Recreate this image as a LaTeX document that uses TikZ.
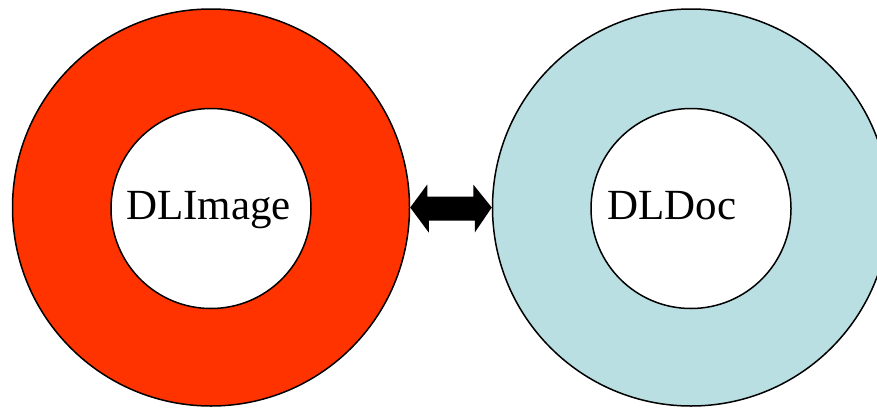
\documentclass[tikz,border=0pt]{standalone}
\usepackage{fontspec}
\setmainfont{Liberation Serif}
\definecolor{ringred}{HTML}{FF3300}
\definecolor{ringblue}{HTML}{B9DFE3}
\begin{document}
\begin{tikzpicture}[x=1pt,y=-1pt,
  outer/.style={circle,draw=black,line width=1.5pt,minimum size=397pt,inner sep=0pt},
  inner/.style={circle,draw=black,fill=white,line width=1.5pt,minimum size=200pt,inner sep=0pt},
  label/.style={anchor=base west,inner sep=0pt,font=\fontsize{43}{48}\selectfont}]
\useasboundingbox (0,0) rectangle (877,407);
\begin{scope}
\clip (0,0) rectangle (877,407);
\node[outer,fill=ringred] (lo) at (211,207.5) {};
\node[outer,fill=ringblue] (ro) at (691,207.5) {};
\node[inner] (li) at (211,208.5) {};
\node[inner] (ri) at (691,208.5) {};
\end{scope}
\node[label] (lt) at (126,219.5) {DLImage};
\node[label] (rt) at (607,219.5) {DLDoc};
\coordinate (a) at (lo.east);
\coordinate (b) at (ro.west);
\fill[black] (a) -- ++(17,-23) -- ++(0,12) -- ++(46,0) -- ++(0,-12) -- (b) -- ++(-17,25) -- ++(0,-12) -- ++(-46,0) -- ++(0,12) -- cycle;
\end{tikzpicture}
\end{document}
